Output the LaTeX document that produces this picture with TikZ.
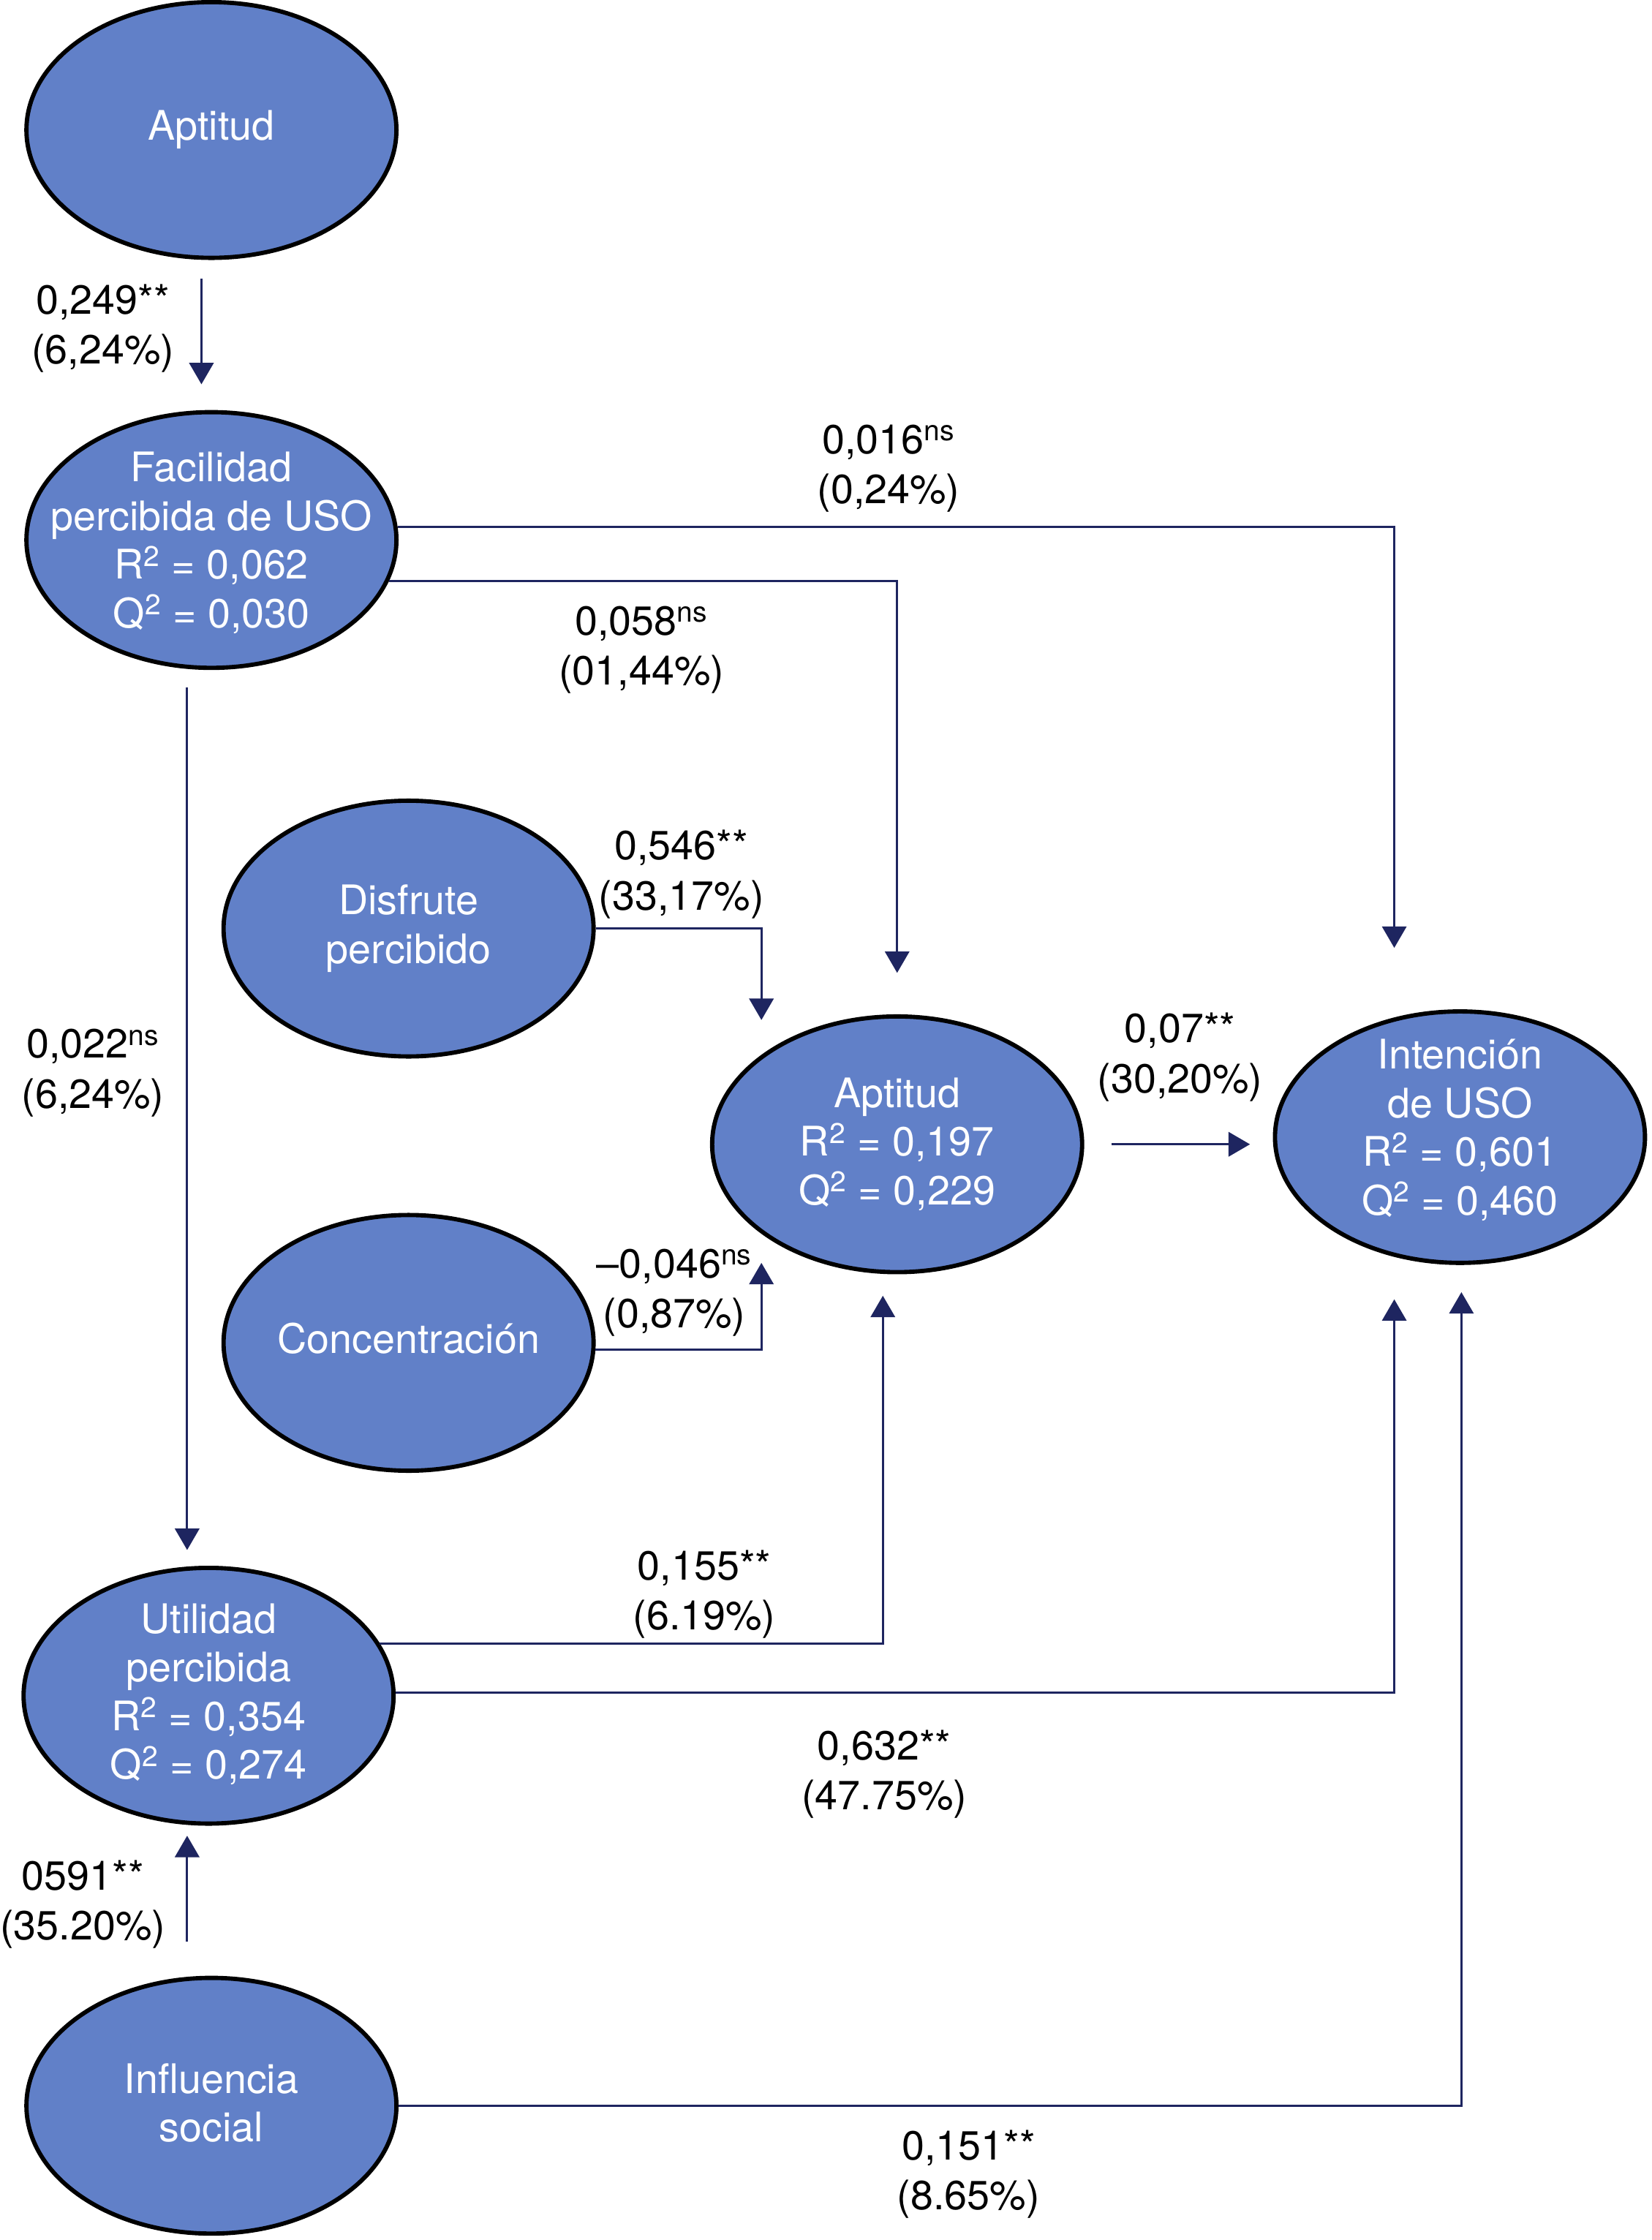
\documentclass[tikz,border=0pt]{standalone}
\usepackage{fontspec}
\setmainfont{TeX Gyre Heros}
\usetikzlibrary{arrows.meta,calc,shapes.geometric}
\definecolor{fillblue}{RGB}{97,128,200}
\definecolor{navy}{RGB}{30,37,96}
\newcommand{\sups}[1]{\textsuperscript{#1}}
\begin{document}
\begin{tikzpicture}[x=1pt,y=-1pt,
  lv/.style={ellipse, draw=black, line width=3pt, fill=fillblue,
    minimum width=259pt, minimum height=179pt, inner sep=0pt},
  lvt/.style={text=white, align=center, inner sep=0pt,
    font=\fontsize{28.5}{34}\selectfont},
  arr/.style={draw=navy, line width=1.6pt, -{Triangle[length=15pt,width=17pt]}},
  lab/.style={align=center, inner sep=0pt, font=\fontsize{28.5}{35}\selectfont}]
\useasboundingbox (0,0) rectangle (1156,1568);

% latent variables
\node[lv] (apt1) at (148,91) {};
\node[lvt] (apt1t) at (apt1.center) {Aptitud};
\node[lv] (fac) at (148,378) {};
\node[lvt] (fact) at ($(fac.center)+(0,2)$) {Facilidad\\percibida de USO\\R\sups{2} = 0,062\\Q\sups{2} = 0,030};
\node[lv] (dis) at (286,650) {};
\node[lvt] (dist) at (dis.center) {Disfrute\\percibido};
\node[lv] (con) at (286,940) {};
\node[lvt] (cont) at ($(con.center)+(0,-3)$) {Concentración};
\node[lv] (apt2) at (628,801) {};
\node[lvt] (apt2t) at (apt2.center) {Aptitud\\R\sups{2} = 0,197\\Q\sups{2} = 0,229};
\node[lv, minimum height=176pt] (int) at (1022,796) {};
\node[lvt] (intt) at ($(int.center)+(0,-5)$) {Intención\\de USO\\R\sups{2} = 0,601\\Q\sups{2} = 0,460};
\node[lv] (uti) at (146,1187) {};
\node[lvt] (utit) at ($(uti.center)+(0,-1)$) {Utilidad\\percibida\\R\sups{2} = 0,354\\Q\sups{2} = 0,274};
\node[lv] (inf) at (148,1474) {};
\node[lvt] (inft) at ($(inf.center)+(0,-2)$) {Influencia\\social};

% paths
\draw[arr, shorten <=13pt, shorten >=18pt] (141,0 |- apt1.south) -- (141,0 |- fac.north);
\draw[arr, shorten >=43pt] (fac.4) -| (976,0 |- int.north);
\draw[arr, shorten >=29pt] (fac.-13) -| (628,0 |- apt2.north);
\draw[arr, shorten <=12pt, shorten >=11pt] (131,0 |- fac.south) -- (131,0 |- uti.north);
\draw[arr] (dis.east) -| ($(apt2.center)+(-95,-87)$);
\draw[arr] (con.-2) -| ($(apt2.center)+(-95,83)$);
\draw[arr, shorten <=19pt, shorten >=16pt] (apt2.east) -- (apt2.east -| int.west);
\draw[arr] (uti.17) -| ($(apt2.center)+(-10,106)$);
\draw[arr, shorten >=24pt] (uti.1) -| (976,0 |- int.south);
\draw[arr, shorten <=24pt, shorten >=7pt] (131,0 |- inf.north) -- (131,0 |- uti.south);
\draw[arr, shorten >=19pt] (inf.east) -| (1023,0 |- int.south);

% labels
\node[lab] (l1) at (72,230) {0,249**\\(6,24\%)};
\node[lab] (l2) at (622,328) {0,016\sups{ns}\\(0,24\%)};
\node[lab] (l3) at (449,455) {0,058\sups{ns}\\(01,44\%)};
\node[lab] (l4) at (477,612) {0,546**\\(33,17\%)};
\node[lab] (l5) at (65,751) {0,022\sups{ns}\\(6,24\%)};
\node[lab] (l6) at (826,740) {0,07**\\(30,20\%)};
\node[lab] (l7) at (472,905) {–0,046\sups{ns}\\(0,87\%)};
\node[lab] (l8) at (493,1116) {0,155**\\(6.19\%)};
\node[lab] (l9) at (619,1242) {0,632**\\(47.75\%)};
\node[lab] (l10) at (58,1333) {0591**\\(35.20\%)};
\node[lab] (l11) at (678,1522) {0,151**\\(8.65\%)};
\end{tikzpicture}
\end{document}
